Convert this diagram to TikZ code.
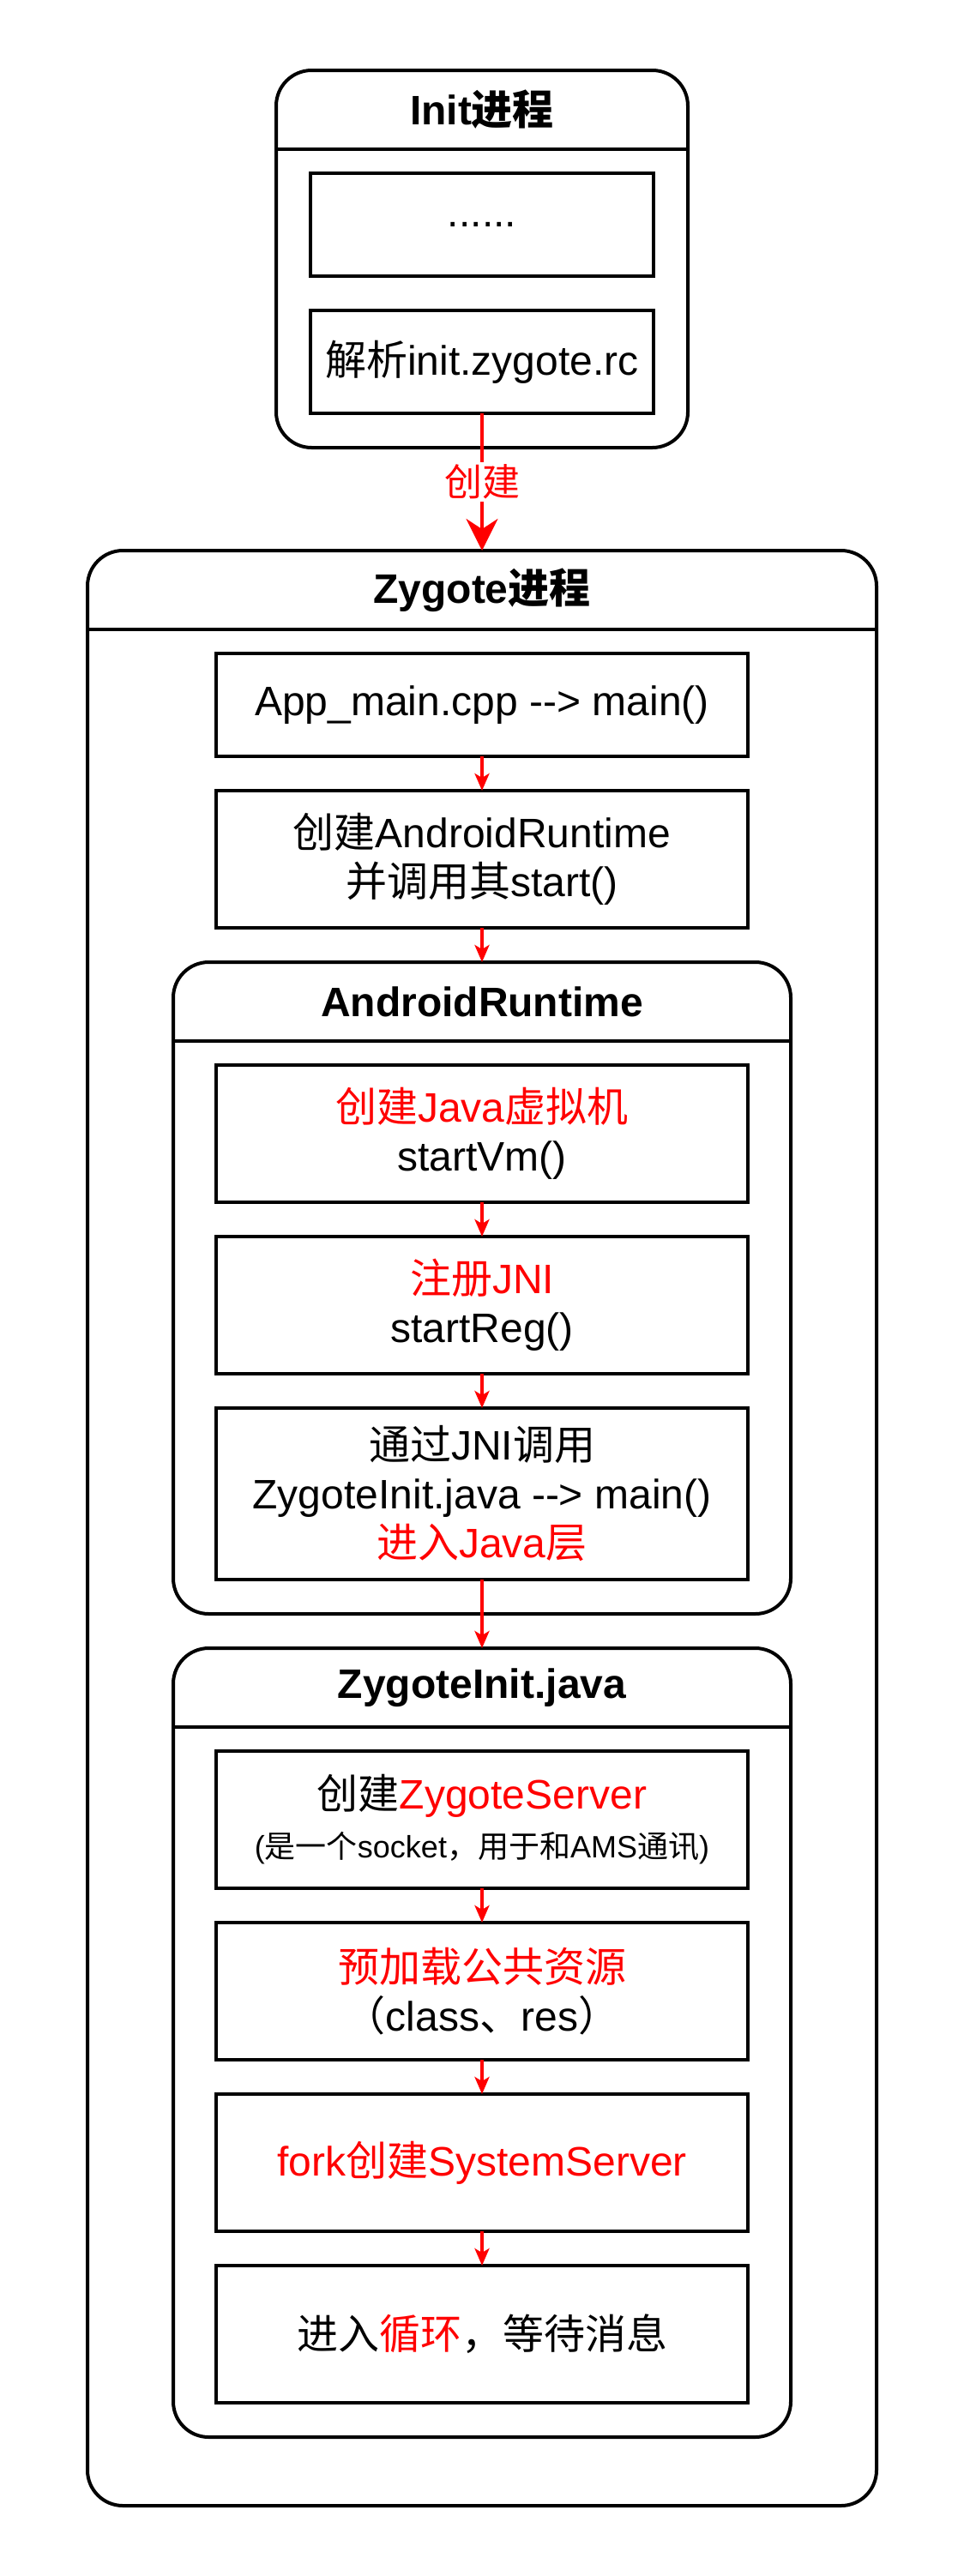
\documentclass[tikz,border=0pt]{standalone}
\usepackage{fontspec}
\setmainfont{Liberation Sans}
\newfontfamily\cjk{Noto Sans CJK SC}
\usetikzlibrary{arrows.meta}
\newcommand\cj[1]{{\cjk #1}}
\newcommand\rd[1]{\textcolor{red}{#1}}
\newcommand\arrtxt{-\kern0pt-\kern0pt>}
\begin{document}
\begin{tikzpicture}[x=1pt,y=-1pt,
 lane/.style={draw, line width=2pt, rounded corners=20.7pt, outer sep=0pt, inner sep=0pt},
 hdr/.style={line width=2pt},
 stepbox/.style={draw, line width=2pt, minimum width=310pt, inner sep=0pt, outer sep=0pt, align=center, font=\fontsize{24}{28.5}\selectfont},
 lanetitle/.style={font=\fontsize{24}{28.8}\selectfont\bfseries, inner sep=0pt},
 flow/.style={draw=red, line width=1.8pt, -{Stealth[length=10pt,width=8.5pt,inset=2.5pt]}},
 bigflow/.style={draw=red, line width=1.8pt, -{Stealth[length=18.5pt,width=18.5pt,inset=6pt]}},
]
\useasboundingbox (0,0) rectangle (562,1502);
\fill[white] (0,0) rectangle (562,1502);

% Init process
\node[lane, minimum width=240pt, minimum height=220pt] (init) at (281,151) {};
\draw[hdr] ([yshift=-46pt]init.north west) -- ([yshift=-46pt]init.north east);
\node[lanetitle] (initT) at (281,64) {Init\cj{进程}};
\node[stepbox, minimum width=200pt, minimum height=60pt] (dots) at (281,131) {......};
\node[stepbox, minimum width=200pt, minimum height=60pt] (parse) at (281,211) {\cj{解析}init.zygote.rc};

% Zygote process
\node[lane, minimum width=460pt, minimum height=1140pt] (zyg) at (281,891) {};
\draw[hdr] ([yshift=-46pt]zyg.north west) -- ([yshift=-46pt]zyg.north east);
\node[lanetitle] (zygT) at (281,344) {Zygote\cj{进程}};

\draw[bigflow] (parse.south) -- node[fill=white, text=red, font=\fontsize{22}{26}\selectfont, inner sep=1.5pt] (lbl) {\cj{创建}} (zyg.north);

\node[stepbox, minimum height=60pt] (appmain) at (281,411) {App\_main.cpp \arrtxt{} main()};
\node[stepbox, minimum height=80pt] (createar) at (281,501) {\cj{创建}AndroidRuntime\\\cj{并调用其}start()};

% AndroidRuntime
\node[lane, minimum width=360pt, minimum height=380pt] (ar) at (281,751) {};
\draw[hdr] ([yshift=-46pt]ar.north west) -- ([yshift=-46pt]ar.north east);
\node[lanetitle] (arT) at (281,584) {AndroidRuntime};
\node[stepbox, minimum height=80pt] (ar1) at (281,661) {\rd{\cj{创建}Java\cj{虚拟机}}\\startVm()};
\node[stepbox, minimum height=80pt] (ar2) at (281,761) {\rd{\cj{注册}JNI}\\startReg()};
\node[stepbox, minimum height=100pt] (ar3) at (281,871) {\cj{通过}JNI\cj{调用}\\ZygoteInit.java \arrtxt{} main()\\\rd{\cj{进入}Java\cj{层}}};

% ZygoteInit.java
\node[lane, minimum width=360pt, minimum height=460pt] (zi) at (281,1191) {};
\draw[hdr] ([yshift=-46pt]zi.north west) -- ([yshift=-46pt]zi.north east);
\node[lanetitle] (ziT) at (281,984) {ZygoteInit.java};
\node[stepbox, minimum height=80pt] (zi1) at (281,1061) {\cj{创建}\rd{ZygoteServer}\\{\fontsize{18}{21.6}\selectfont (\cj{是一个}socket\cj{，用于和}AMS\cj{通讯})}};
\node[stepbox, minimum height=80pt] (zi2) at (281,1161) {\rd{\cj{预加载公共资源}}\\\cj{（}class\cj{、}res\cj{）}};
\node[stepbox, minimum height=80pt] (zi3) at (281,1261) {\rd{fork\cj{创建}SystemServer}};
\node[stepbox, minimum height=80pt] (zi4) at (281,1361) {\cj{进入}\rd{\cj{循环}}\cj{，等待消息}};

% flow arrows
\draw[flow] (appmain.south) -- (createar.north);
\draw[flow] (createar.south) -- (ar.north);
\draw[flow] (ar1.south) -- (ar2.north);
\draw[flow] (ar2.south) -- (ar3.north);
\draw[flow] (ar3.south) -- (zi.north);
\draw[flow] (zi1.south) -- (zi2.north);
\draw[flow] (zi2.south) -- (zi3.north);
\draw[flow] (zi3.south) -- (zi4.north);
\end{tikzpicture}
\end{document}
